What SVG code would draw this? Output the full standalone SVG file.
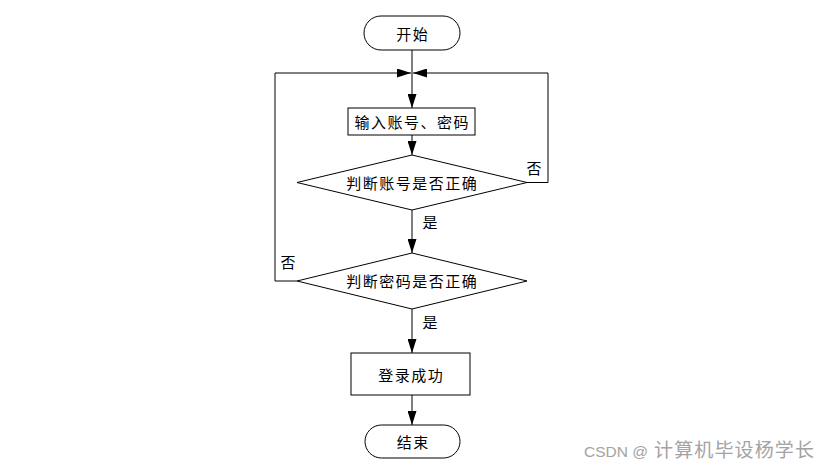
<svg xmlns="http://www.w3.org/2000/svg" width="831" height="469" viewBox="0 0 831 469">
<style>
.shape{fill:#fff;stroke:#000;stroke-width:1}
.lbl{font-family:"Noto Sans CJK SC","Liberation Sans",sans-serif;font-size:15px;fill:#000;text-anchor:middle;dominant-baseline:central;letter-spacing:1.5px}
.edge{fill:none;stroke:#000;stroke-width:1}
.elbl{font-family:"Noto Sans CJK SC","Liberation Sans",sans-serif;font-size:15px;fill:#000;text-anchor:middle}
</style>
<defs>
<marker id="arr" markerUnits="userSpaceOnUse" markerWidth="14" markerHeight="9" refX="14" refY="4.5" orient="auto">
<path d="M0,0 L14,4.5 L0,9 Z" fill="#000"/>
</marker>
</defs>
<rect width="831" height="469" fill="#fff"/>
<g id="connectors">
<line class="edge" x1="412" y1="50" x2="412" y2="108" marker-end="url(#arr)"/>
<line class="edge" x1="412" y1="135" x2="412" y2="155" marker-end="url(#arr)"/>
<line class="edge" x1="412" y1="210" x2="412" y2="253" marker-end="url(#arr)"/>
<line class="edge" x1="412" y1="309" x2="412" y2="353" marker-end="url(#arr)"/>
<line class="edge" x1="412" y1="395" x2="412" y2="425" marker-end="url(#arr)"/>
<polyline class="edge" points="527,182.5 548,182.5 548,73 413,73" marker-end="url(#arr)"/>
<polyline class="edge" points="297,281 275,281 275,73 411,73" marker-end="url(#arr)"/>
<text class="elbl" x="534" y="174">否</text>
<text class="elbl" x="288" y="268">否</text>
<text class="elbl" x="430" y="228">是</text>
<text class="elbl" x="430" y="328">是</text>
</g>
<g id="start">
<rect class="shape" x="364" y="16" width="96" height="34" rx="17" ry="17"/>
<text class="lbl" x="412.75" y="33">开始</text>
</g>
<g id="input">
<rect class="shape" x="348" y="108" width="127" height="27"/>
<text class="lbl" x="412.25" y="121.5">输入账号、密码</text>
</g>
<g id="check-account">
<polygon class="shape" points="412,155 527,182.5 412,210 297,182.5"/>
<text class="lbl" x="412.25" y="182">判断账号是否正确</text>
</g>
<g id="check-password">
<polygon class="shape" points="412,253 527,281 412,309 297,281"/>
<text class="lbl" x="412.25" y="280.5">判断密码是否正确</text>
</g>
<g id="success">
<rect class="shape" x="351" y="353" width="119" height="42"/>
<text class="lbl" x="411.25" y="374">登录成功</text>
</g>
<g id="end">
<rect class="shape" x="365" y="425" width="95" height="33" rx="16.5" ry="16.5"/>
<text class="lbl" x="413.25" y="441.5">结束</text>
</g>
<text x="584" y="457" font-family="'Liberation Sans',sans-serif" font-size="15.5" fill="#a3a3a3">CSDN @</text>
<text x="654" y="457" font-family="'Noto Sans CJK SC',sans-serif" font-size="19" fill="#a3a3a3" textLength="160" lengthAdjust="spacing">计算机毕设杨学长</text>
</svg>
